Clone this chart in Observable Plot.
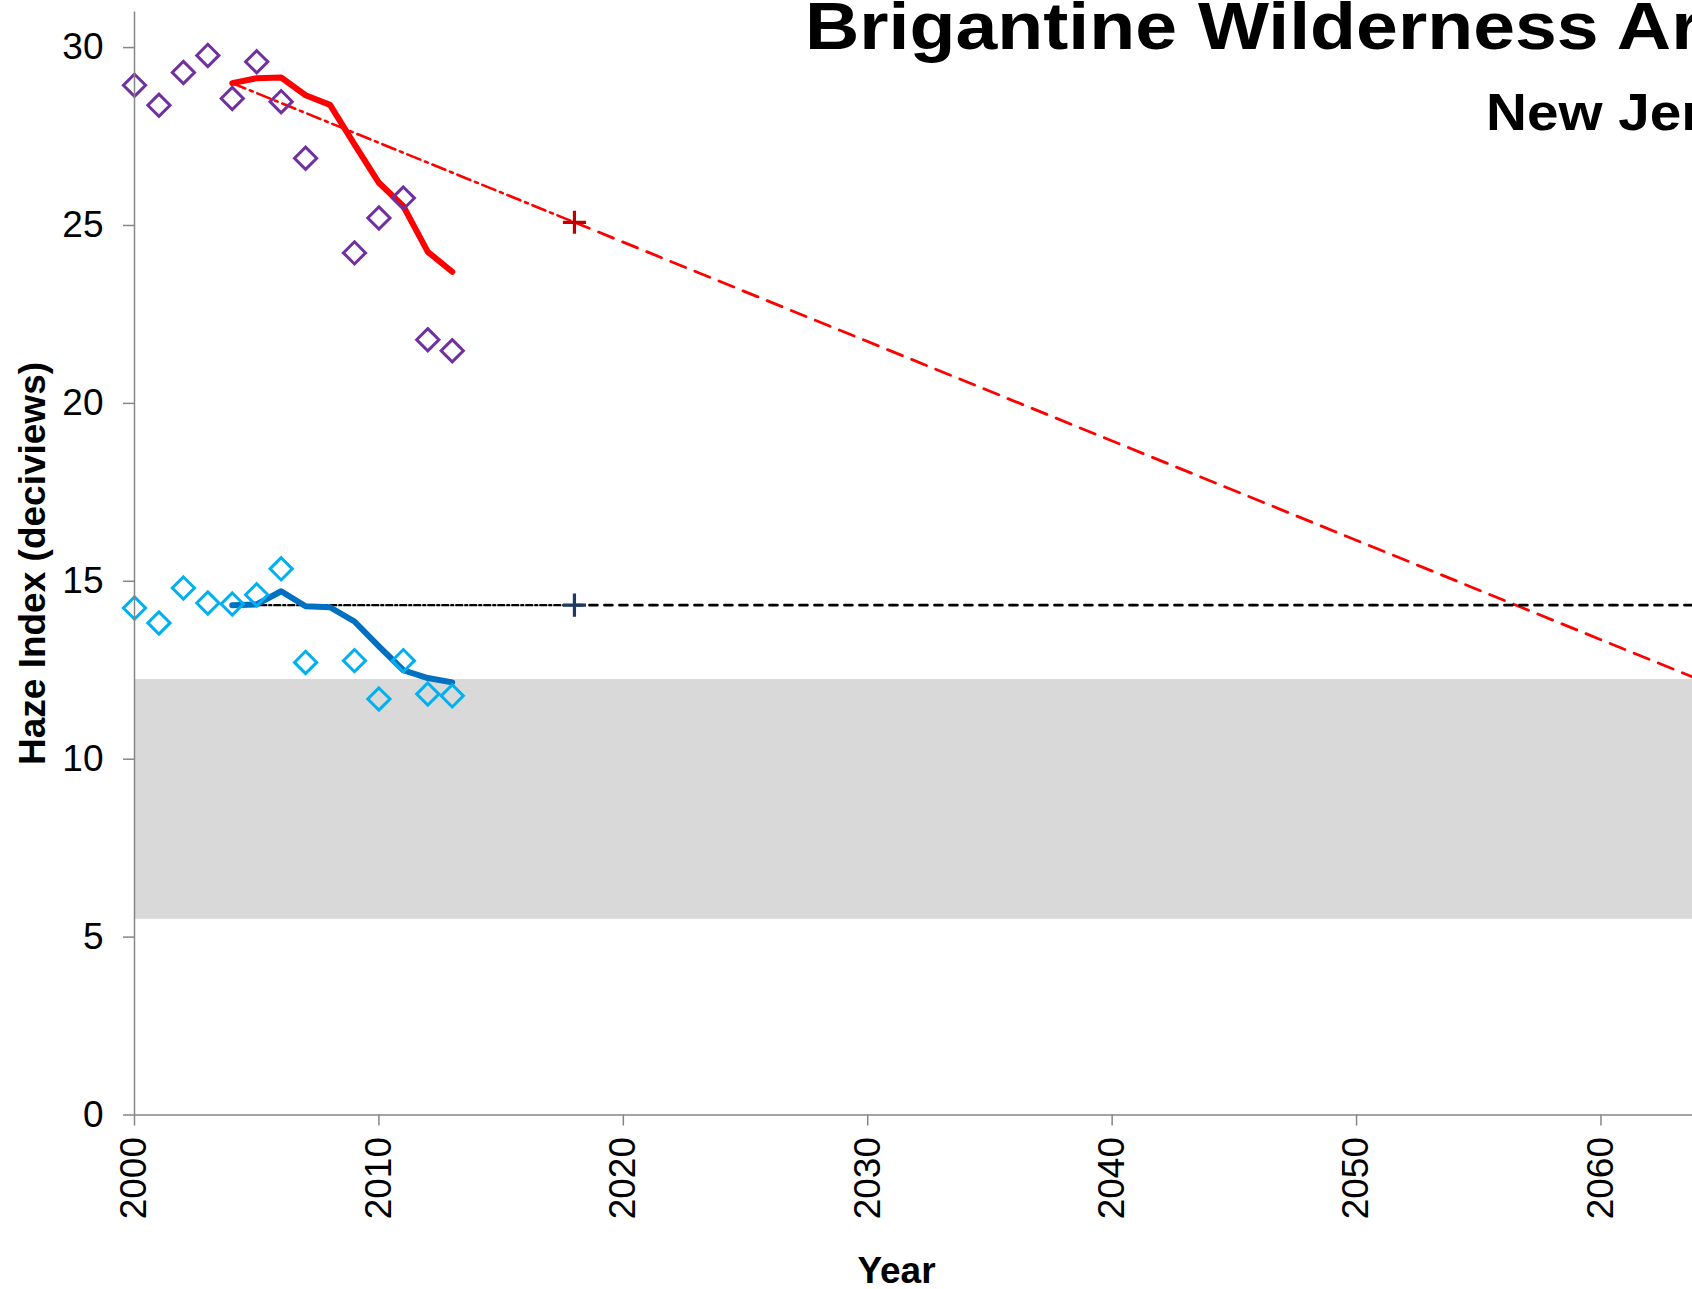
<!DOCTYPE html>
<html>
<head>
<meta charset="utf-8">
<script src="https://cdn.jsdelivr.net/npm/d3@7"></script>
<script src="https://cdn.jsdelivr.net/npm/@observablehq/plot@0.6"></script>
<style>
html, body { margin: 0; padding: 0; overflow: hidden; background: #fff; }
#wrap { position: relative; width: 1692px; height: 1289px; overflow: hidden; background: #fff; }
#chart { position: absolute; left: 0; top: 0; width: 1806px; }
.t { position: absolute; font-family: "Liberation Sans", Arial, sans-serif; font-weight: bold; white-space: nowrap; line-height: 1; color: #000; transform-origin: 0 0; }
</style>
</head>
<body>
<div id="wrap">
  <div id="chart"></div>
  <div class="t" style="left:805px; top:-7px; font-size:66px; transform: scaleX(1.14);">Brigantine Wilderness Area</div>
  <div class="t" style="left:1486px; top:85.5px; font-size:52px; transform: scaleX(1.09);">New Jersey</div>
</div>
<script>
// ---- data ----
const years = [2000, 2001, 2002, 2003, 2004, 2005, 2006, 2007, 2009, 2010, 2011, 2012, 2013];
const haziest = [28.94, 28.38, 29.30, 29.78, 28.57, 29.60, 28.48, 26.89, 24.23, 25.21, 25.77, 21.79, 21.48];
const clearest = [14.25, 13.83, 14.81, 14.39, 14.36, 14.62, 15.35, 12.72, 12.77, 11.69, 12.77, 11.83, 11.78];

const avgYears = [2004, 2005, 2006, 2007, 2008, 2009, 2010, 2011, 2012, 2013];
const haziestAvg = [29.00, 29.14, 29.16, 28.66, 28.39, 27.28, 26.20, 25.54, 24.26, 23.70];
const clearestAvg = [14.33, 14.35, 14.72, 14.30, 14.27, 13.87, 13.17, 12.50, 12.28, 12.16];

const glideYears = [2004, 2018, 2064];
const haziestGlide = [29.00, 25.09, 12.24];
const clearestGlide = [14.33, 14.33, 14.33];

const naturalLow = 5.50;
const naturalHigh = 12.24;

const xDomain = [2000, 2068];
const yDomain = [0, 31];
const xTicks = [2000, 2010, 2020, 2030, 2040, 2050, 2060];
const yTicks = [0, 5, 10, 15, 20, 25, 30];

// ---- tables ----
const pts = (xs, ys) => xs.map((x, i) => ({x, y: ys[i]}));
const hazPts = pts(years, haziest);
const clrPts = pts(years, clearest);
const hazAvg = pts(avgYears, haziestAvg);
const clrAvg = pts(avgYears, clearestAvg);
const hazGlide = pts(glideYears, haziestGlide);
const clrGlide = pts(glideYears, clearestGlide);

const axisGray = "#868686";
const font = "'Liberation Sans', Arial, Helvetica, sans-serif";

const chart = Plot.plot({
  width: 1806,
  height: 1289,
  marginLeft: 134,
  marginRight: 10,
  marginTop: 11.5,
  marginBottom: 174.5,
  style: {fontFamily: font, fontSize: "37px", background: "white", maxWidth: "none", color: "black"},
  x: {domain: xDomain},
  y: {domain: yDomain},
  marks: [
    Plot.rect([0], {x1: xDomain[0], x2: xDomain[1], y1: naturalLow, y2: naturalHigh, fill: "#D9D9D9"}),
    // glide paths: dash-dot to the + marker, dashed afterwards
    Plot.line(hazGlide.slice(0, 2), {x: "x", y: "y", stroke: "#FF0000", strokeWidth: 2.6, strokeDasharray: "14,5,3,5"}),
    Plot.line(hazGlide.slice(1), {x: "x", y: "y", stroke: "#FF0000", strokeWidth: 2.8, strokeDasharray: "16,10"}),
    Plot.line(clrGlide.slice(0, 2), {x: "x", y: "y", stroke: "#000000", strokeWidth: 2.4, strokeDasharray: "6,3,2,3"}),
    Plot.line(clrGlide.slice(1), {x: "x", y: "y", stroke: "#000000", strokeWidth: 2.6, strokeDasharray: "8,7"}),
    // rolling averages
    Plot.line(hazAvg, {x: "x", y: "y", stroke: "#FF0000", strokeWidth: 6, strokeLinecap: "round", strokeLinejoin: "round"}),
    Plot.line(clrAvg, {x: "x", y: "y", stroke: "#0070C0", strokeWidth: 6, strokeLinecap: "round", strokeLinejoin: "round"}),
    // annual values
    Plot.dot(hazPts, {x: "x", y: "y", symbol: "diamond2", r: 10, stroke: "#7030A0", strokeWidth: 3, fill: "none"}),
    Plot.dot(clrPts, {x: "x", y: "y", symbol: "diamond2", r: 10, stroke: "#00B0F0", strokeWidth: 3, fill: "none"}),
    // 2018 progress markers
    Plot.dot([hazGlide[1]], {x: "x", y: "y", symbol: "plus", r: 7.5, stroke: "#C00000", strokeWidth: 3.2}),
    Plot.dot([clrGlide[1]], {x: "x", y: "y", symbol: "plus", r: 7.5, stroke: "#1F3864", strokeWidth: 3.2}),
    // axes
    Plot.ruleX([xDomain[0]], {stroke: axisGray, strokeWidth: 1.5}),
    Plot.ruleY([yDomain[0]], {stroke: axisGray, strokeWidth: 1.5}),
    Plot.axisY({ticks: yTicks, tickSize: 11, tickPadding: 20, stroke: axisGray, strokeWidth: 1.5, fill: "black", label: null, fontSize: 37}),
    Plot.axisX({ticks: xTicks, tickSize: 11, tickPadding: 11, tickRotate: -90, tickFormat: d => String(d), stroke: axisGray, strokeWidth: 1.5, fill: "black", label: null, fontSize: 37}),
    // axis titles
    Plot.text(["Haze Index (deciviews)"], {text: d => d, frameAnchor: "left", textAnchor: "middle", rotate: -90, dx: -101.5, fontWeight: "bold", fontSize: 37, fill: "black"}),
    Plot.text(["Year"], {text: d => d, frameAnchor: "bottom-left", textAnchor: "middle", dx: 762, dy: 167.5, fontWeight: "bold", fontSize: 37, fill: "black"})
  ]
});
document.getElementById("chart").appendChild(chart);
</script>
</body>
</html>
